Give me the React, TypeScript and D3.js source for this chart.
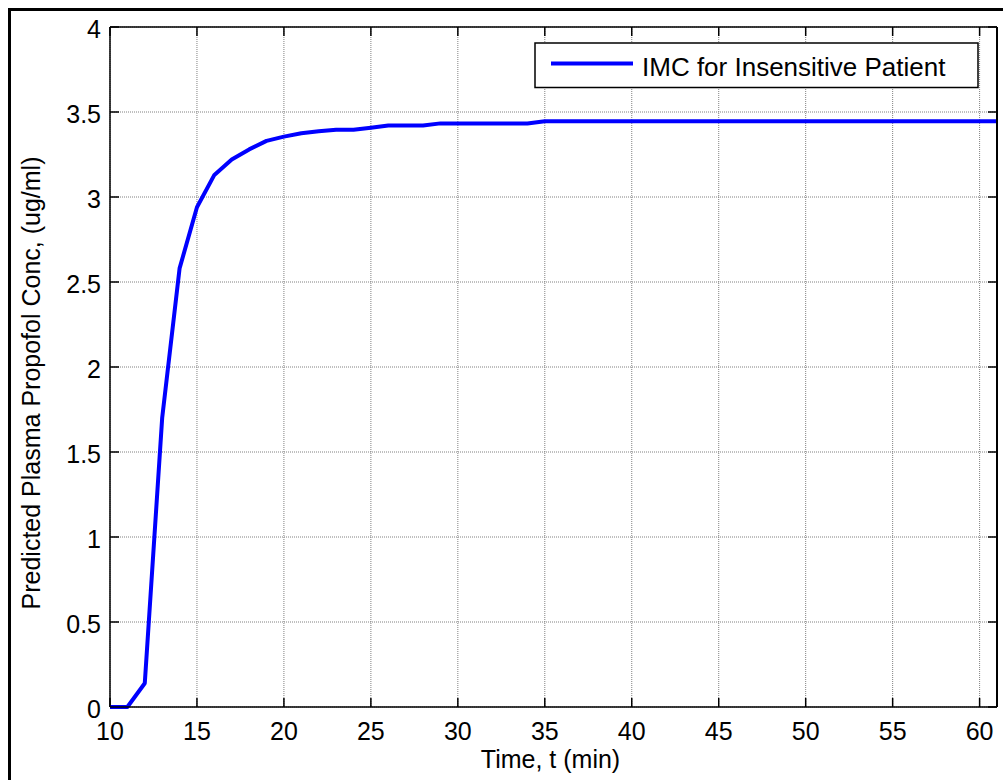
import React from "react";
import * as d3 from "d3";

const times: number[] = [
  10, 11, 12, 13, 14, 15, 16, 17, 18, 19, 20, 21, 22, 23, 24, 25, 26, 27, 28, 29,
  30, 31, 32, 33, 34, 35, 36, 37, 38, 39, 40, 41, 42, 43, 44, 45, 46, 47, 48, 49,
  50, 51, 52, 53, 54, 55, 56, 57, 58, 59, 60, 61,
];
const conc: number[] = [
  0, 0, 0.14, 1.7, 2.58, 2.94, 3.13, 3.22, 3.28, 3.33, 3.355, 3.375, 3.387, 3.396, 3.396, 3.408, 3.42, 3.42, 3.42, 3.433,
  3.433, 3.433, 3.433, 3.433, 3.433, 3.445, 3.445, 3.445, 3.445, 3.445, 3.445, 3.445, 3.445, 3.445, 3.445, 3.445, 3.445, 3.445, 3.445, 3.445,
  3.445, 3.445, 3.445, 3.445, 3.445, 3.445, 3.445, 3.445, 3.445, 3.445, 3.445, 3.445,
];
const xTicks: number[] = [10, 15, 20, 25, 30, 35, 40, 45, 50, 55, 60];
const yTicks: number[] = [0, 0.5, 1, 1.5, 2, 2.5, 3, 3.5, 4];
const yTickLabels: string[] = ["0", "0.5", "1", "1.5", "2", "2.5", "3", "3.5", "4"];
const seriesName = "IMC for Insensitive Patient";
const xLabel = "Time, t (min)";
const yLabel = "Predicted Plasma Propofol Conc,  (ug/ml)";

const W = 1003;
const H = 780;
const L = 110;
const R = 997;
const T = 27;
const B = 707;
const FONT = "'Liberation Sans', Arial, sans-serif";

export default function App() {
  const x = d3.scaleLinear().domain([10, 61]).range([L, R]);
  const y = d3.scaleLinear().domain([0, 4]).range([B, T]);
  const pts = times.map((t, i) => [t, conc[i]] as [number, number]);
  const line = d3
    .line<[number, number]>()
    .x((d) => x(d[0]))
    .y((d) => y(d[1]));
  const tickLen = 9;
  return (
    <div style={{ position: "absolute", left: 0, top: 0 }}>
      <svg width={W} height={H} style={{ display: "block", background: "#fff" }}>
        <rect x={0} y={0} width={W} height={H} fill="#fff" />
        {/* figure border */}
        <rect x={9.5} y={9.5} width={W + 20} height={H + 20} fill="none" stroke="#000" strokeWidth={3} />
        {/* grid */}
        {xTicks.map((t) => (
          <line key={"gx" + t} x1={x(t)} x2={x(t)} y1={T} y2={B} stroke="#808080" strokeWidth={1} strokeDasharray="1,1" />
        ))}
        {yTicks.map((t) => (
          <line key={"gy" + t} x1={L} x2={R} y1={y(t)} y2={y(t)} stroke="#808080" strokeWidth={1} strokeDasharray="1,1" />
        ))}
        {/* ticks */}
        {xTicks.map((t) => (
          <g key={"tx" + t}>
            <line x1={x(t)} x2={x(t)} y1={B} y2={B - tickLen} stroke="#000" strokeWidth={1.5} />
            <line x1={x(t)} x2={x(t)} y1={T} y2={T + tickLen} stroke="#000" strokeWidth={1.5} />
          </g>
        ))}
        {yTicks.map((t) => (
          <g key={"ty" + t}>
            <line x1={L} x2={L + tickLen} y1={y(t)} y2={y(t)} stroke="#000" strokeWidth={1.5} />
            <line x1={R} x2={R - tickLen} y1={y(t)} y2={y(t)} stroke="#000" strokeWidth={1.5} />
          </g>
        ))}
        {/* data line */}
        <path d={line(pts) || ""} fill="none" stroke="#0000ff" strokeWidth={4} strokeLinejoin="round" />
        {/* axes box */}
        <line x1={L} x2={R} y1={T} y2={T} stroke="#000" strokeWidth={1.5} />
        <line x1={L} x2={R} y1={B} y2={B} stroke="#000" strokeWidth={1.5} />
        <line x1={L} x2={L} y1={T} y2={B} stroke="#000" strokeWidth={1.5} />
        <line x1={R} x2={R} y1={T} y2={B} stroke="#000" strokeWidth={2} />
        {/* tick labels */}
        {xTicks.map((t) => (
          <text key={"lx" + t} x={x(t)} y={739.5} textAnchor="middle" fontFamily={FONT} fontSize={25} fill="#000">
            {t}
          </text>
        ))}
        {yTicks.map((t, i) => (
          <text key={"ly" + t} x={101} y={y(t) + 11} textAnchor="end" fontFamily={FONT} fontSize={25} fill="#000">
            {yTickLabels[i]}
          </text>
        ))}
        {/* axis labels */}
        <text x={550.5} y={768} textAnchor="middle" fontFamily={FONT} fontSize={25} fill="#000">
          {xLabel}
        </text>
        <text
          transform={`translate(39.5, ${383}) rotate(-90)`}
          textAnchor="middle"
          fontFamily={FONT}
          fontSize={25}
          fill="#000"
        >
          {yLabel}
        </text>
        {/* legend */}
        <rect x={535} y={43} width={443} height={44.5} fill="#fff" stroke="#000" strokeWidth={1.5} />
        <line x1={551} x2={633} y1={63.5} y2={63.5} stroke="#0000ff" strokeWidth={4} />
        <text x={642} y={75.5} fontFamily={FONT} fontSize={26} fill="#000">
          {seriesName}
        </text>
      </svg>
    </div>
  );
}
